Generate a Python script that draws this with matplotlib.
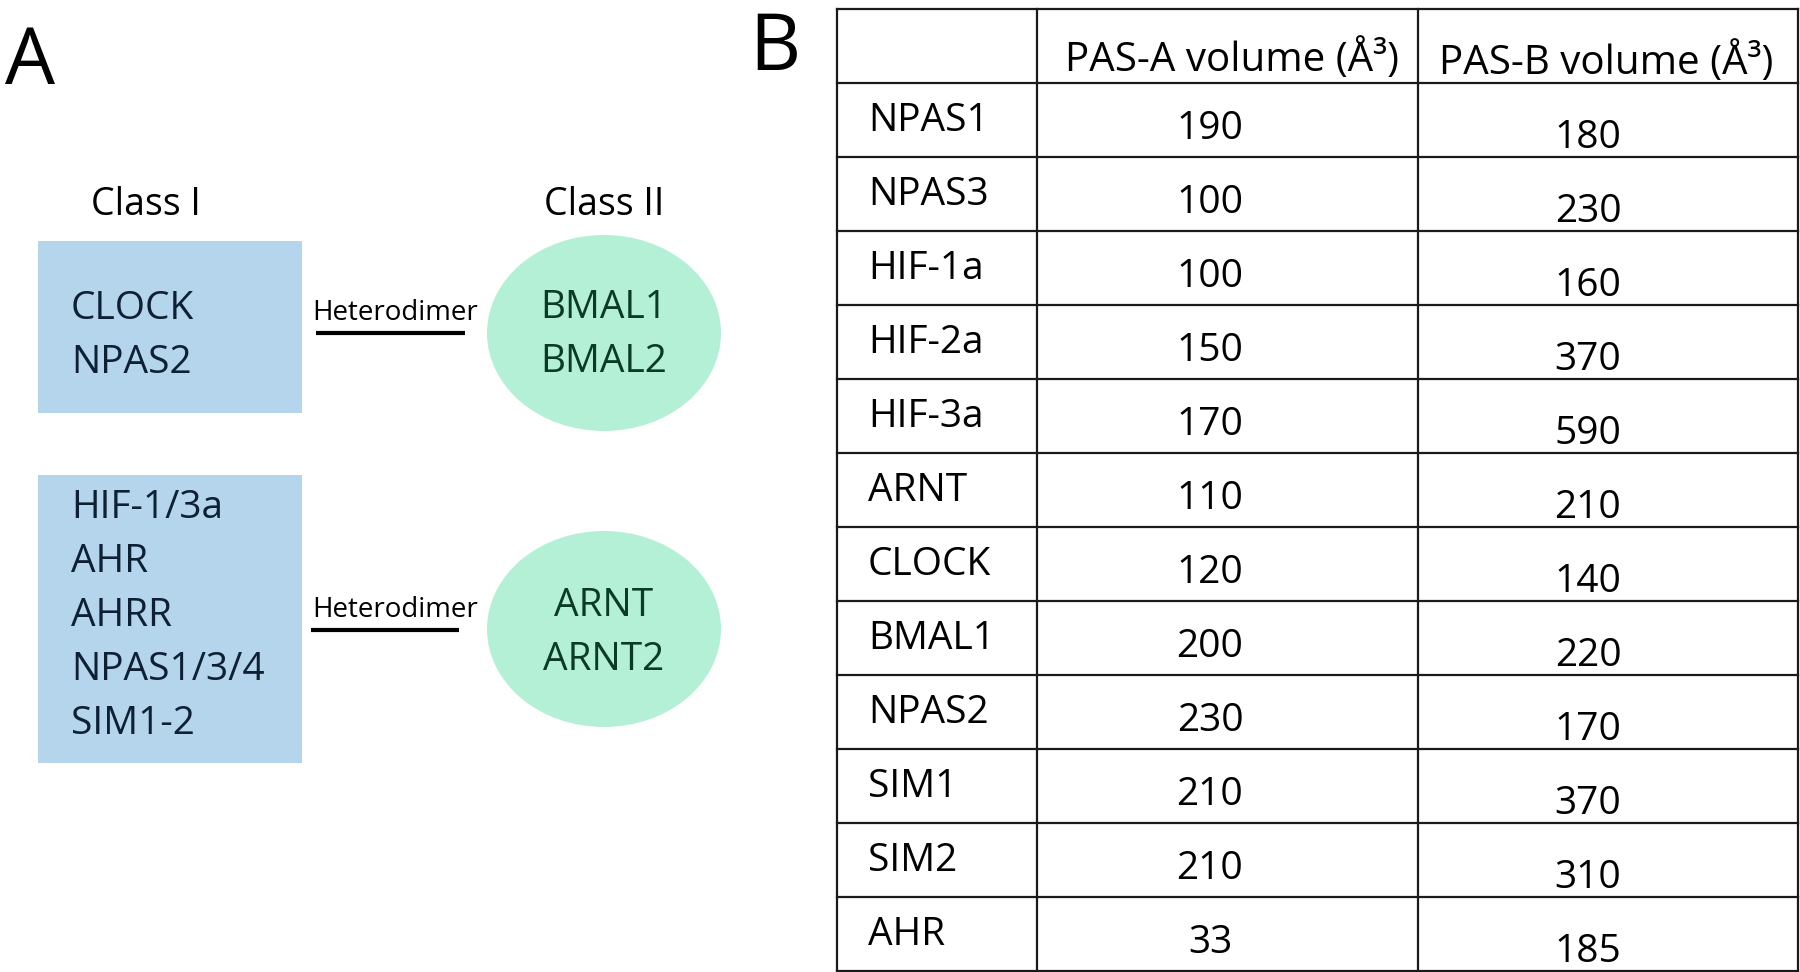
import matplotlib
matplotlib.use("Agg")
import matplotlib.pyplot as plt
from matplotlib.patches import Rectangle, Ellipse

plt.rcParams['font.family'] = ['Open Sans', 'DejaVu Sans']

# ---- data ----
class1_groups = [["CLOCK", "NPAS2"],
                 ["HIF-1/3a", "AHR", "AHRR", "NPAS1/3/4", "SIM1-2"]]
class2_groups = [["BMAL1", "BMAL2"], ["ARNT", "ARNT2"]]
link_label = "Heterodimer"
col_headers = ["", "PAS-A volume (Å³)", "PAS-B volume (Å³)"]
proteins = ["NPAS1", "NPAS3", "HIF-1a", "HIF-2a", "HIF-3a", "ARNT",
            "CLOCK", "BMAL1", "NPAS2", "SIM1", "SIM2", "AHR"]
pas_a = [190, 100, 100, 150, 170, 110, 120, 200, 230, 210, 210, 33]
pas_b = [180, 230, 160, 370, 590, 210, 140, 220, 170, 370, 310, 185]

W, H = 1800, 972
fig = plt.figure(figsize=(18, 9.72), dpi=100)
ax = fig.add_axes([0, 0, 1, 1])
ax.set_xlim(0, W)
ax.set_ylim(H, 0)
ax.axis('off')

BLUE = '#b4d5ec'
MINT = '#b3f0d5'
NAVY = '#0e2134'
DGREEN = '#0b3a26'

# ---- panel labels ----
ax.text(5, 84, "A", fontsize=57, ha='left', va='baseline', color='black')
ax.text(749, 70, "B", fontsize=57, ha='left', va='baseline', color='black')

# ---- panel A ----
ax.text(146, 205, "Class I", fontsize=27, ha='center', va='center', color='black')
ax.text(604, 205, "Class II", fontsize=27, ha='center', va='center', color='black')

boxes = [(38, 241, 264, 172), (38, 475, 264, 288)]
box_text_y0 = [309, 508]
ellipses = [(604, 333), (604, 629)]
ell_text_y0 = [308, 606]
line_ys = [333, 630]
line_xs = [(316, 465), (311, 459)]
step = 54
for gi, (bx, by, bw, bh) in enumerate(boxes):
    ax.add_patch(Rectangle((bx, by), bw, bh, facecolor=BLUE, edgecolor='none'))
    for i, nm in enumerate(class1_groups[gi]):
        ax.text(71, box_text_y0[gi] + i * step, nm, fontsize=28, ha='left',
                va='center', color=NAVY)
    cx, cy = ellipses[gi]
    ax.add_patch(Ellipse((cx, cy), 234, 196, facecolor=MINT, edgecolor='none'))
    for i, nm in enumerate(class2_groups[gi]):
        ax.text(cx, ell_text_y0[gi] + i * step, nm, fontsize=28, ha='center',
                va='center', color=DGREEN)
    ly = line_ys[gi]
    ax.plot(line_xs[gi], [ly, ly], color='black', lw=3, solid_capstyle='butt')
    ax.text(395, ly - 13, link_label, fontsize=20, ha='center', va='baseline',
            color='black')

# ---- panel B table ----
col_x = [837, 1037, 1418, 1798]
header_top, header_bot = 9, 83
row_h = 74
n = len(proteins)
row_tops = [header_bot + i * row_h for i in range(n)]
bottom = header_bot + n * row_h
lc = '#1a1a1a'
for x in col_x:
    ax.plot([x, x], [header_top, bottom], color=lc, lw=1.6, clip_on=False)
ax.plot([col_x[0], col_x[-1]], [header_top, header_top], color=lc, lw=1.6, clip_on=False)
for y in [header_bot] + [t + row_h for t in row_tops]:
    ax.plot([col_x[0], col_x[-1]], [y, y], color=lc, lw=1.6, clip_on=False)

ax.text(1232, 60, col_headers[1], fontsize=29, ha='center', va='center', color='black')
ax.text(1606, 63, col_headers[2], fontsize=29, ha='center', va='center', color='black')

for i, (p, a, b) in enumerate(zip(proteins, pas_a, pas_b)):
    cy = row_tops[i] + row_h / 2
    ax.text(868, cy + 1, p, fontsize=28, ha='left', va='center', color='black')
    ax.text(1210, cy + 9, str(a), fontsize=28, ha='center', va='center', color='black')
    ax.text(1588, cy + 18, str(b), fontsize=28, ha='center', va='center', color='black')

fig.savefig("out.png", dpi=100)
